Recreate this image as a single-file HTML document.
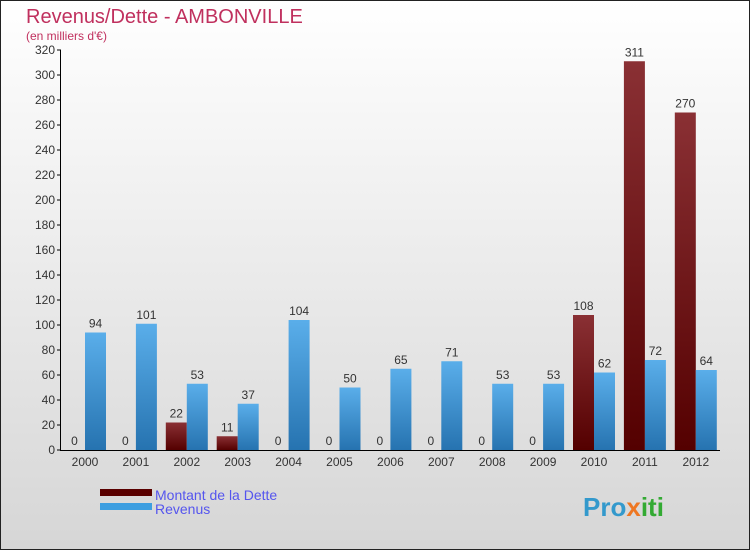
<!DOCTYPE html>
<html><head><meta charset="utf-8"><style>
body{margin:0}
#c{width:750px;height:550px;position:relative;overflow:hidden;font-family:"Liberation Sans",sans-serif}
</style></head><body>
<div id="c">
<svg width="750" height="550" xmlns="http://www.w3.org/2000/svg" id="svg">
<defs>
<linearGradient id="bg" x1="0" y1="0" x2="0" y2="1"><stop offset="0" stop-color="#ffffff"/><stop offset="1" stop-color="#d6d6d6"/></linearGradient>
<linearGradient id="gd" x1="0" y1="0" x2="0" y2="1"><stop offset="0" stop-color="#8a3034"/><stop offset="1" stop-color="#540000"/></linearGradient>
<linearGradient id="gr" x1="0" y1="0" x2="0" y2="1"><stop offset="0" stop-color="#5aaeea"/><stop offset="1" stop-color="#2673b0"/></linearGradient>
</defs>
<rect x="0.5" y="0.5" width="749" height="549" fill="url(#bg)" stroke="#222"/>
<text x="26" y="23" font-size="20" fill="#c0305e">Revenus/Dette - AMBONVILLE</text>
<text x="26" y="40" font-size="12" fill="#c0305e">(en milliers d'€)</text>
<g id="plot"></g>
<rect x="100" y="489" width="52" height="7" fill="#5a0000"/>
<rect x="100" y="503" width="52" height="7" fill="#3d9ee0"/>
<text x="155" y="500" font-size="14" fill="#5555ee">Montant de la Dette</text>
<text x="155" y="514" font-size="14" fill="#5555ee">Revenus</text>
<text x="583" y="516" font-size="26" font-weight="bold" fill="#3399cc">Pro<tspan fill="#ee7722">x</tspan><tspan fill="#33aa33">iti</tspan></text>
</svg>
</div>
<script>
const years=["2000","2001","2002","2003","2004","2005","2006","2007","2008","2009","2010","2011","2012"];
const dette=[0,0,22,11,0,0,0,0,0,0,108,311,270];
const revenus=[94,101,53,37,104,50,65,71,53,53,62,72,64];
const yTicks=[0,20,40,60,80,100,120,140,160,180,200,220,240,260,280,300,320];
const NS="http://www.w3.org/2000/svg";
const g=document.getElementById('plot');
const y=v=>450-v*1.25;
const x=i=>85+i*50.9;
function mk(t,a){const e=document.createElementNS(NS,t);for(const k in a)e.setAttribute(k,a[k]);g.appendChild(e);return e;}
for(const t of yTicks){
 const tk=mk('line',{x1:57,x2:61,y1:y(t),y2:y(t),stroke:'#000'});
 
 
 const l=mk('text',{x:55,y:y(t)+4,'font-size':12,'text-anchor':'end',fill:'#333'});
 l.textContent=t;
 
 
}
years.forEach((yr,i)=>{
 const cx=x(i);
 const b1=mk('rect',{x:cx-21,y:y(dette[i]),width:21,height:dette[i]*1.25,fill:'url(#gd)'});
 
 
 const b2=mk('rect',{x:cx,y:y(revenus[i]),width:21,height:revenus[i]*1.25,fill:'url(#gr)'});
 
 
 const v1=mk('text',{x:cx-10.5,y:y(dette[i])-5,'font-size':12,'text-anchor':'middle',fill:'#333'});
 v1.textContent=dette[i];
 
 
 const v2=mk('text',{x:cx+10.5,y:y(revenus[i])-5,'font-size':12,'text-anchor':'middle',fill:'#333'});
 v2.textContent=revenus[i];
 
 
 const xl=mk('text',{x:cx,y:466,'font-size':12,'text-anchor':'middle',fill:'#333'});
 xl.textContent=yr;
 
 
});
const ya=mk('line',{x1:60.5,x2:60.5,y1:50,y2:450,stroke:'#000'});


const xa=mk('line',{x1:60,x2:720,y1:450.5,y2:450.5,stroke:'#000'});


</script>
</body></html>
